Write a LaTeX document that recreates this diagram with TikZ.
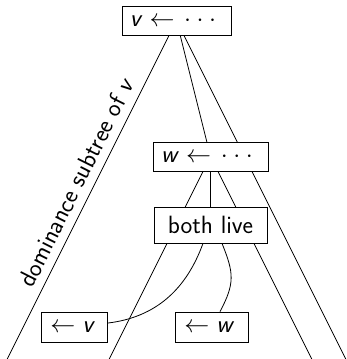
\RequirePackage{fix-cm}
\documentclass[tikz,border=0pt]{standalone}
\usetikzlibrary{backgrounds,calc}
\newcommand{\mydots}{\makebox[0.5em]{$\cdotp$}\makebox[0.5em]{$\cdotp$}\makebox[0.5em]{$\cdotp$}}
\newcommand{\bigsf}{\sffamily\fontsize{25}{30}\selectfont}
\tikzset{
  box/.style={draw, fill=white, line width=0.8pt, inner sep=0pt, font=\bigsf},
  ln/.style={line width=0.8pt},
  lbl/.style={font=\bigsf, inner sep=8pt},
}
\begin{document}
\begin{tikzpicture}[x=1pt,y=1pt]
\useasboundingbox (0,0) rectangle (347,-359);
% nodes
\node[box, minimum width=109, minimum height=29] (v) at (176.5,-20.5) {\textsl{v}$\;\leftarrow\;$\mydots\,};
\node[box, minimum width=115, minimum height=29] (w) at (210.5,-156.5) {\textsl{w}$\;\leftarrow\;$\mydots\,};
\node[box, minimum width=113, minimum height=36] (b) at (210.5,-225) {both live};
\node[box, minimum width=66, minimum height=30] (lv) at (74.8,-327) {$\leftarrow\;$\textsl{v}\,};
\node[box, minimum width=73, minimum height=30] (lw) at (211.5,-327) {$\leftarrow\;$\textsl{w}\,};
\coordinate (vL) at (7.25,-359);
\coordinate (vR) at (345.75,-359);
\coordinate (wL) at (109.25,-359);
\coordinate (wR) at (311.75,-359);
% tree lines behind boxes
\begin{scope}[on background layer]
\draw[ln] (v.center) -- (vR);
\draw[ln] (v.center) -- (w.center);
\draw[ln] (w.center) -- (wL);
\draw[ln] (w.center) -- (wR);
\draw[ln] (w.center) -- (b.center);
\draw[ln] (vL) -- (v.center) node[lbl, midway, above, sloped] (lab) {dominance subtree of \textsl{v}};
\end{scope}
% curves
\draw[ln] ($(b.south)+(-7.5,0)$) to[out=-110, in=7] ($(lv.east)+(0,4)$);
\draw[ln] ($(b.south)+(11.5,0)$) to[out=-68, in=62, looseness=1.2] ($(lw.north)+(8.5,0)$);
\end{tikzpicture}
\end{document}
